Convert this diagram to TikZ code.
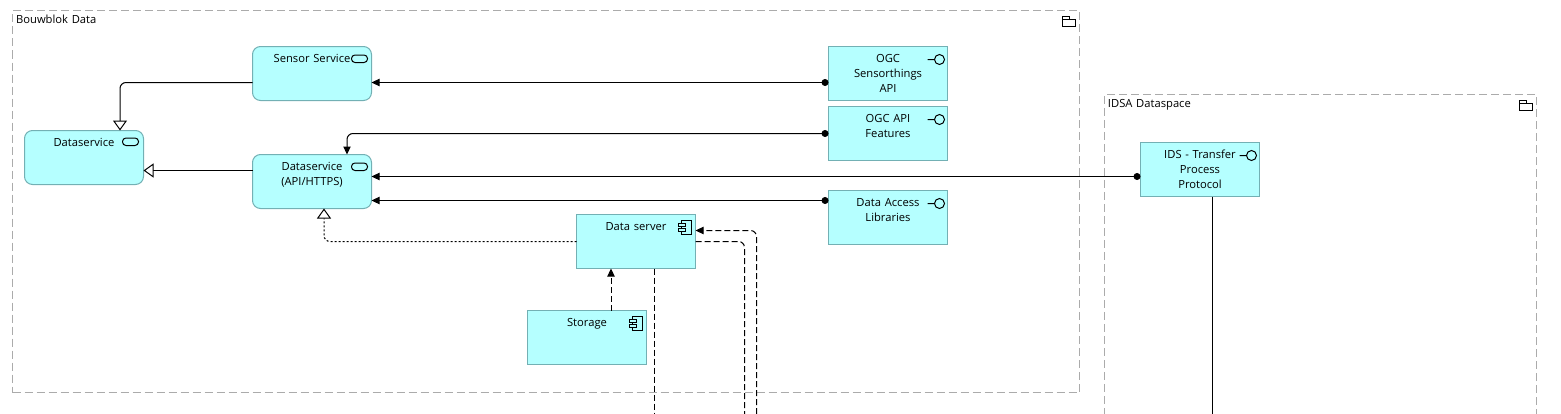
\documentclass[tikz,border=0pt]{standalone}
\usepackage{fontspec}
\setmainfont{Open Sans}
\usepackage{xcolor}
\usetikzlibrary{arrows.meta, positioning}
\definecolor{appfill}{HTML}{B5FFFF}
\definecolor{appedge}{HTML}{73B0B4}
\definecolor{groupedge}{HTML}{ABABAB}
\tikzset{
  element/.style={rectangle, draw=appedge, fill=appfill, line width=0.75pt, inner sep=0pt, outer sep=0pt, minimum width=89.25pt, minimum height=40.5pt, text width=89.25pt, align=center, text height=12.2pt, text depth=28.3pt, font=\fontsize{8.4}{11.25}\selectfont},
  service/.style={element, rounded corners=6pt},
  iface/.style={element},
  component/.style={element},
  group/.style={rectangle, draw=groupedge, line width=0.75pt, dash pattern=on 6pt off 3pt, inner sep=0pt, outer sep=0pt, inner xsep=2.6pt, align=left, text height=9.4pt, font=\fontsize{8.4}{11.25}\selectfont},
  iconline/.style={draw=black, line width=0.75pt},
  wire/.style={black, line width=0.75pt, rounded corners=4.5pt},
  served/.style={wire, {Circle[length=5.2pt]}-{Triangle[length=6pt,width=5.5pt]}},
  special/.style={wire, -{Triangle[open,fill=white,length=7.5pt,width=10.5pt]}},
  realize/.style={special, dash pattern=on 1.5pt off 1.5pt},
  access/.style={wire, dash pattern=on 4.5pt off 2.25pt},
  accessin/.style={access, -{Triangle[length=6pt,width=5.5pt]}},
}
\newcommand{\serviceicon}[2][0]{\draw[iconline, rounded corners=2.6pt] ([shift={(-20-#1,8.5-#1)}]#2.north east) rectangle ++(16,7.5);}
\newcommand{\ifaceicon}[1]{\draw[iconline] ([shift={(-20,13)}]#1.north east) -- ++(7,0) ++(5,0) circle[radius=3.75pt];}
\newcommand{\componenticon}[1]{
  \draw[iconline] ([shift={(-14,5.5)}]#1.north east) rectangle ++(10,14);
  \draw[iconline, fill=appfill] ([shift={(-17,8.5)}]#1.north east) rectangle ++(6.5,3.5);
  \draw[iconline, fill=appfill] ([shift={(-17,13.5)}]#1.north east) rectangle ++(6.5,3.5);
}
\newcommand{\foldericon}[1]{
  \draw[iconline] ([shift={(-17,8.5)}]#1.north east) rectangle ++(13,7.5);
  \draw[iconline] ([shift={(-17,8.5)}]#1.north east) -- ++(0,-3) -- ++(7,0) -- ++(0,3);
}
\begin{document}
\begin{tikzpicture}[x=0.75pt, y=-0.75pt]
\useasboundingbox (0,0) rectangle (1561,414);
\node[group, anchor=north west, minimum width=800.25pt, minimum height=286.5pt, text width=794.8pt, text depth=277.1pt] (bouwblok) at (12.5,10.5) {Bouwblok Data};
\node[group, anchor=north west, minimum width=324pt, minimum height=260pt, text width=318.8pt, text depth=250.6pt] (idsa) at (1104.5,94.5) {IDSA Dataspace};

\node[service, anchor=north west] (sensorsvc) at (252.5,46.5) {Sensor Service};
\node[service, below=40.5pt of sensorsvc] (apisvc) {Dataservice\\(API/HTTPS)};
\node[service, left=81.75pt of apisvc, yshift=18pt] (datasvc) {Dataservice};
\node[iface, right=342.75pt of sensorsvc] (ogcsta) {OGC\\Sensorthings\\API};
\node[iface, below=4.5pt of ogcsta] (ogcfeat) {OGC API\\Features};
\node[iface, below=22.5pt of ogcfeat] (dataacc) {Data Access\\Libraries};
\node[component, below right=4.5pt and 153.75pt of apisvc] (dataserver) {Data server};
\node[component, below=31.5pt of dataserver, xshift=-36.75pt] (storage) {Storage};
\node[iface, anchor=north west] (idstpp) at (1140.5,142.5) {IDS - Transfer\\Process\\Protocol};

\coordinate (serverout) at (654,414);
\coordinate (serverin) at (756.5,414);
\coordinate (serverback) at (744.5,414);
\coordinate (idsout) at (1212.5,414);

\foreach \el in {sensorsvc, apisvc} {\serviceicon{\el}}
\serviceicon[1]{datasvc}
\foreach \el in {ogcsta, ogcfeat, dataacc, idstpp} {\ifaceicon{\el}}
\foreach \el in {dataserver, storage} {\componenticon{\el}}
\foreach \el in {bouwblok, idsa} {\foldericon{\el}}

\draw[special] ([shift={(0,9)}]sensorsvc.west) -| ([shift={(36,0)}]datasvc.north);
\draw[special] ([shift={(0,-11)}]apisvc.west) -- ([shift={(0,13)}]datasvc.east);
\draw[served] ([shift={(0,9)}]ogcsta.west) -- ([shift={(0,9)}]sensorsvc.east);
\draw[served] (ogcfeat.west) -| ([shift={(35,0)}]apisvc.north);
\draw[served] ([shift={(0,7)}]idstpp.west) -- ([shift={(0,-5)}]apisvc.east);
\draw[served] ([shift={(0,-17)}]dataacc.west) -- ([shift={(0,19)}]apisvc.east);
\draw[realize] (dataserver.west) -| ([shift={(12,0)}]apisvc.south);
\draw[accessin] ([shift={(24,0)}]storage.north) -- ([shift={(-25,0)}]dataserver.south);
\draw[access] ([shift={(18,0)}]dataserver.south) -- (serverout);
\draw[accessin] (serverin) |- ([shift={(0,-11)}]dataserver.east);
\draw[access] (dataserver.east) -| (serverback);
\draw[black, line width=0.75pt] ([shift={(12.5,0)}]idstpp.south) -- (idsout);
\end{tikzpicture}
\end{document}
